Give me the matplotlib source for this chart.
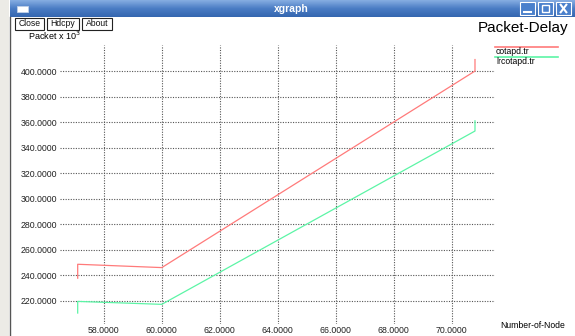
import numpy as np
import matplotlib.pyplot as plt
from matplotlib.patches import Rectangle
from matplotlib.lines import Line2D

plt.rcParams['font.family'] = ['Liberation Sans', 'DejaVu Sans']

# trace data (number of nodes vs packet delay, x 10^3)
nodes = [57.1, 57.1, 60.0, 70.8, 70.8]
delay_cotapd = [237.7, 248.6, 246.0, 400.0, 409.0]
delay_lrcotapd = [210.4, 219.5, 217.2, 353.0, 361.0]

x_ticks = [58, 60, 62, 64, 66, 68, 70]
y_ticks = [220, 240, 260, 280, 300, 320, 340, 360, 380, 400]
series_names = ['cotapd.tr', 'lrcotapd.tr']
series_colors = ['#ff7a7a', '#5cf5a6']

W, H = 575, 336
fig = plt.figure(figsize=(W / 100, H / 100), dpi=100)
fig.patch.set_facecolor('white')


def px_box(x0, y0, x1, y1):
    # pixel box (top-left origin) -> figure fraction rect
    return [x0 / W, 1 - y1 / H, (x1 - x0) / W, (y1 - y0) / H]


# window title bar with a soft gradient
tb = fig.add_axes(px_box(10, 0, 575, 17))
grad = np.linspace(0, 1, 64).reshape(-1, 1)
tb.imshow(grad, aspect='auto', cmap=plt.matplotlib.colors.LinearSegmentedColormap.from_list(
    'tb', ['#86aee2', '#4a7cc4', '#3466b0']), extent=[0, 1, 0, 1])
tb.set_axis_off()
tb.text(0.497, 0.5, 'xgraph', color='white', fontsize=7.5, fontweight='bold',
        ha='center', va='center', transform=tb.transAxes)
# window icon
tb.add_patch(Rectangle((0.012, 0.3), 0.02, 0.35, facecolor='white', edgecolor='#c0d0e8',
                       lw=0.6, transform=tb.transAxes))
# minimise / maximise / close boxes
for bx0, glyph in [(520, 'min'), (538, 'max'), (556, 'close')]:
    r = Rectangle(((bx0 - 10) / 565, 0.12), 15 / 565, 0.76, facecolor='#4a80cc',
                  edgecolor='white', lw=0.8, transform=tb.transAxes)
    tb.add_patch(r)
    cx = (bx0 - 10 + 7.5) / 565
    if glyph == 'min':
        tb.add_line(Line2D([cx - 0.006, cx + 0.006], [0.3, 0.3], color='white', lw=1.5,
                           transform=tb.transAxes))
    elif glyph == 'max':
        tb.add_patch(Rectangle((cx - 0.006, 0.3), 0.012, 0.4, facecolor='none',
                               edgecolor='white', lw=1.0, transform=tb.transAxes))
    else:
        tb.add_line(Line2D([cx - 0.005, cx + 0.005], [0.28, 0.72], color='white', lw=1.5,
                           transform=tb.transAxes))
        tb.add_line(Line2D([cx - 0.005, cx + 0.005], [0.72, 0.28], color='white', lw=1.5,
                           transform=tb.transAxes))

# left window border
fig.add_artist(Rectangle((0, 0), 9 / W, 1, transform=fig.transFigure,
                         facecolor='#ecebe6', edgecolor='none'))
fig.add_artist(Line2D([10 / W, 10 / W], [0, 1 - 17 / H], transform=fig.transFigure,
                      color='#555555', lw=1.0))

# buttons
for label, x0, x1 in [('Close', 15, 44), ('Hdcpy', 47, 79), ('About', 82, 112)]:
    fig.add_artist(Rectangle((x0 / W, 1 - 30 / H), (x1 - x0) / W, 12 / H,
                             transform=fig.transFigure, facecolor='white',
                             edgecolor='#222222', lw=0.8))
    fig.text((x0 + x1) / 2 / W, 1 - 24 / H, label, fontsize=6.2, ha='center',
             va='center', color='#111111')

fig.text(28 / W, 1 - 36 / H, 'Packet x 10$^{3}$', fontsize=6.5, ha='left', va='center')
fig.text(568 / W, 1 - 28 / H, 'Packet-Delay', fontsize=11, ha='right', va='center')
fig.text(500 / W, 1 - 325 / H, 'Number-of-Node', fontsize=6.2, ha='left', va='center')

# legend in xgraph style: coloured bar over the file name
for i, (name, col) in enumerate(zip(series_names, series_colors)):
    yl = 47 + i * 10
    fig.add_artist(Line2D([495 / W, 558 / W], [1 - yl / H, 1 - yl / H],
                          transform=fig.transFigure, color=col, lw=1.2))
    fig.text(496 / W, 1 - (yl + 4.5) / H, name, fontsize=6.2, ha='left', va='center')

# plot area
ax = fig.add_axes(px_box(60, 45, 495, 324))
ax.set_facecolor('none')
for s in ax.spines.values():
    s.set_visible(False)
ax.set_xlim(56.49, 71.49)
ax.set_ylim(201.8, 420.4)
ax.set_xticks(x_ticks)
ax.set_yticks(y_ticks)
ax.set_xticklabels(['%.4f' % v for v in x_ticks])
ax.set_yticklabels(['%.4f' % v for v in y_ticks])
ax.tick_params(length=0, labelsize=6.3, colors='#222222')
ax.tick_params(axis='y', pad=2)
ax.tick_params(axis='x', pad=1.5)
ax.grid(True, color='#555555', linestyle=(0, (1, 1.3)), lw=0.8)

ax.plot(nodes, delay_cotapd, color=series_colors[0], lw=0.9)
ax.plot(nodes, delay_lrcotapd, color=series_colors[1], lw=0.9)

fig.savefig('out.png', dpi=100)
